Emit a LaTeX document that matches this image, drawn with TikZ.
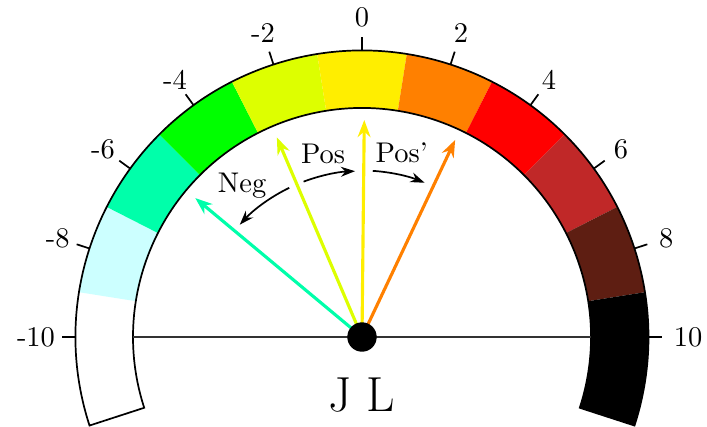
\documentclass[tikz,border=0pt]{standalone}
\usetikzlibrary{arrows.meta}
\definecolor{sLcyan}{HTML}{CCFFFF}
\definecolor{sSea}{HTML}{00FFAA}
\definecolor{sGreen}{HTML}{00FF00}
\definecolor{sYg}{HTML}{DDFF00}
\definecolor{sYellow}{HTML}{FFEE00}
\definecolor{sOrange}{HTML}{FF8000}
\definecolor{sRed}{HTML}{FF0000}
\definecolor{sDred}{HTML}{C02828}
\definecolor{sBrown}{HTML}{5E1E12}
\tikzset{
  needle/.style={line width=1.1pt,-{Stealth[length=6pt,width=4.5pt]}},
  turn/.style={semithick,-{Stealth[length=5pt,width=3.5pt]}},
  ticklabel/.style={inner sep=0pt},
  caption/.style={font=\LARGE},
}
\begin{document}
\begin{tikzpicture}[x=0.351pt,y=0.351pt]
\useasboundingbox (-362,-89) rectangle (345,337);
\def\Ro{286.5}
\def\Ri{229}
\coordinate (c) at (0,0);
% coloured segments
\foreach \a/\b/\col in {198/171/white,171/153/sLcyan,153/135/sSea,135/117/sGreen,117/99/sYg,99/81/sYellow,81/63/sOrange,63/45/sRed,45/27/sDred,27/9/sBrown,9/-18/black}{
  \fill[\col] (\a:\Ro) arc[start angle=\a,end angle=\b,radius=\Ro] -- (\b:\Ri) arc[start angle=\b,end angle=\a,radius=\Ri] -- cycle;
}
% outline
\draw[semithick] (198:\Ro) arc[start angle=198,end angle=-18,radius=\Ro] -- (-18:\Ri) arc[start angle=-18,end angle=198,radius=\Ri] -- cycle;
% ticks and labels
\foreach \v/\lr in {-10/326,-8/320,-6/320,-4/318,-2/320,0/320,2/320,4/318,6/320,8/320,10/326}{
  \pgfmathtruncatemacro\ang{90-9*\v}
  \coordinate (ti\v) at (\ang:\Ro);
  \coordinate (to\v) at (\ang:300);
  \draw[semithick] (ti\v) -- (to\v);
  \node[ticklabel] (t\v) at (\ang:\lr) {\v};
}
% horizontal line
\coordinate (hl) at (180:\Ri);
\coordinate (hr) at (0:\Ri);
\draw[thin,black!80] (hl) -- (hr);
% needles
\coordinate (nSea) at (140.2:217);
\coordinate (nYg) at (113.1:217);
\coordinate (nYel) at (89.4:217);
\coordinate (nOr) at (64.7:218);
\draw[needle,sSea] (c) -- (nSea);
\draw[needle,sYg] (c) -- (nYg);
\draw[needle,sYellow] (c) -- (nYel);
\draw[needle,sOrange] (c) -- (nOr);
% hub
\fill[black] (c) circle[radius=14.7];
% turning arrows
\coordinate (negA) at (116:166);
\coordinate (posA) at (110.6:166);
\coordinate (ppA) at (86.3:166.5);
\draw[turn] (negA) arc[start angle=116,end angle=137.4,radius=166];
\draw[turn] (posA) arc[start angle=110.6,end angle=92.4,radius=166];
\draw[turn] (ppA) arc[start angle=86.3,end angle=67.9,radius=166.5];
\node (neg) at (128.4:193) {Neg};
\node (pos) at (102:187) {Pos};
\node (posp) at (77.8:188) {Pos'};
% caption
\node[caption] (jl) at (0,-58) {J L};
\end{tikzpicture}
\end{document}
